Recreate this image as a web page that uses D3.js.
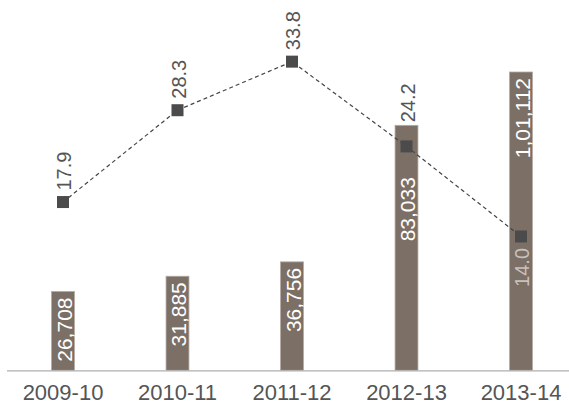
<!DOCTYPE html>
<html><head><meta charset="utf-8">
<script src="https://cdn.jsdelivr.net/npm/d3@7"></script>
<style>body{margin:0;background:#fff}svg{display:block}text{font-family:"Liberation Sans",Arial,sans-serif}</style>
</head><body><svg id="c" width="569" height="407"></svg>
<script>
const categories = ["2009-10","2010-11","2011-12","2012-13","2013-14"];
const barValues = [26708, 31885, 36756, 83033, 101112];
const barLabels = ["26,708","31,885","36,756","83,033","1,01,112"];
const lineValues = [17.9, 28.3, 33.8, 24.2, 14.0];
const lineLabels = ["17.9","28.3","33.8","24.2","14.0"];
const lineLabelPlace = ["above","above","above","aboveBar","below"];
const barLabelPlace = ["top","top","top","belowMarker","top"];

const svg = d3.select("#c");
const x = d3.scaleBand().domain(categories).range([5.75, 578.25]).paddingInner(0.8).paddingOuter(0.4);
const y = d3.scaleLinear().domain([0, 101112]).range([370.3, 72]);
const y2 = d3.scaleLinear().domain([0, 40]).range([360.1, 6.9]);
const cx = d => x(d) + x.bandwidth()/2;

// bars
svg.selectAll("rect.bar").data(categories).join("rect")
  .attr("class","bar")
  .attr("x", d => x(d)).attr("width", x.bandwidth())
  .attr("y", (d,i) => y(barValues[i])).attr("height", (d,i) => y(0) - y(barValues[i]))
  .attr("fill","#7c6f66").attr("stroke","#b3aaa4").attr("stroke-width",0.8);

// axis
const axis = svg.append("g").attr("transform",`translate(0,${y(0)})`)
  .call(d3.axisBottom(x).tickSize(0).tickSizeOuter(0));
axis.select(".domain").attr("stroke","#b0b0b0").attr("stroke-width",1.2).attr("d","M7,0.5H569");
axis.selectAll("text").attr("font-size","22px").attr("fill","#555").attr("dy","0").attr("y",29.8)
  .style("font-family","Liberation Sans, Arial, sans-serif");

// bar labels
svg.selectAll("text.blabel").data(categories).join("text")
  .attr("class","blabel")
  .attr("transform",(d,i) => {
    let top = y(barValues[i]) + 6;
    if (barLabelPlace[i] === "belowMarker") top = y2(lineValues[i]) + 30.7;
    return `translate(${cx(d)+1},${top}) rotate(-90)`;
  })
  .attr("text-anchor","end").attr("dy","0.36em")
  .attr("font-size","21px").attr("fill","#fff")
  .text((d,i) => barLabels[i]);

// line
const line = d3.line().x((d,i) => cx(categories[i])).y(d => y2(d));
svg.append("path").datum(lineValues).attr("d", line)
  .attr("fill","none").attr("stroke","#444").attr("stroke-width",1.2).attr("stroke-dasharray","4,3");

svg.selectAll("rect.mk").data(lineValues).join("rect")
  .attr("class","mk")
  .attr("x",(d,i) => cx(categories[i]) - 6).attr("y", d => y2(d) - 6)
  .attr("width",12).attr("height",12).attr("fill","#4b4b4b");

svg.selectAll("text.llabel").data(lineValues).join("text")
  .attr("class","llabel")
  .attr("transform",(d,i) => {
    const px = cx(categories[i]) + 1;
    const place = lineLabelPlace[i];
    if (place === "below") return `translate(${px},${y2(d)+11.5}) rotate(-90)`;
    let base = y2(d) - 11.5;
    if (place === "aboveBar") base = y(barValues[i]) - 3;
    return `translate(${px},${base}) rotate(-90)`;
  })
  .attr("text-anchor",(d,i) => lineLabelPlace[i] === "below" ? "end" : "start")
  .attr("dy","0.36em")
  .attr("font-size","20px")
  .attr("fill",(d,i) => lineLabelPlace[i] === "below" ? "#c9c1bc" : "#555")
  .text((d,i) => lineLabels[i]);
</script></body></html>
